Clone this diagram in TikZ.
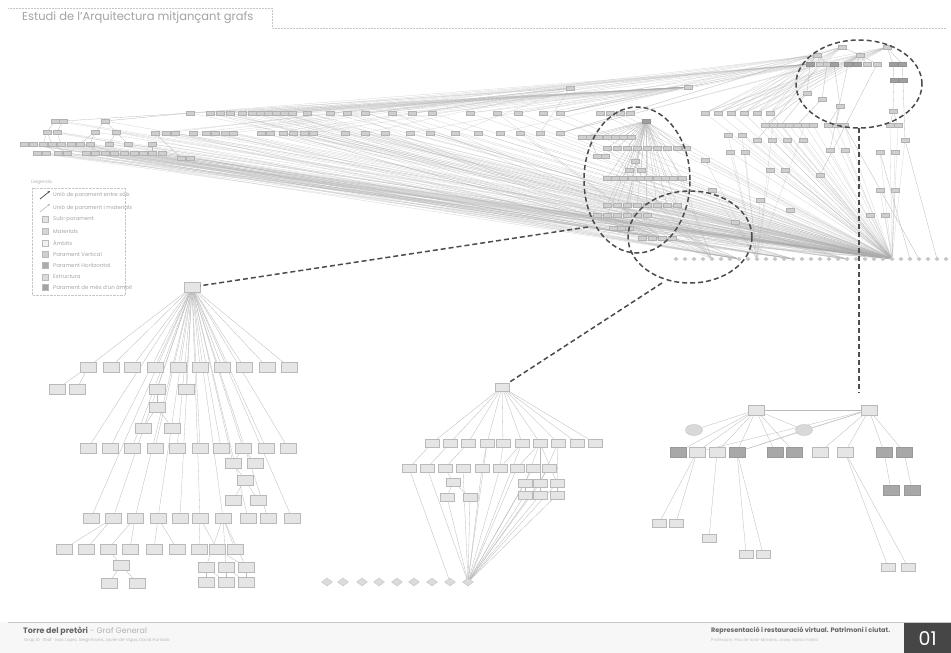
\documentclass[tikz,border=0pt]{standalone}
\usepackage{fontspec}
\setmainfont{Poppins}
\usetikzlibrary{shapes.geometric,arrows.meta}
\pgfdeclarelayer{bg}
\pgfdeclarelayer{back}
\pgfsetlayers{back,bg,main}
\begin{document}
\begin{tikzpicture}[x=1pt,y=-1pt,
 tn/.style={rectangle, fill=gray!38, draw=gray!60, line width=0.2pt, minimum width=8pt, minimum height=4pt, inner sep=0pt},
 tnd/.style={tn, fill=gray!75, draw=gray!85},
 bx/.style={rectangle, fill=gray!20, draw=gray!55, line width=0.3pt, minimum width=16pt, minimum height=10pt, inner sep=0pt},
 bxd/.style={bx, fill=gray!68, draw=gray!80},
 sbx/.style={rectangle, fill=gray!20, draw=gray!55, line width=0.3pt, minimum width=14pt, minimum height=8pt, inner sep=0pt},
 ell/.style={ellipse, fill=gray!30, draw=gray!55, line width=0.3pt, minimum width=17pt, minimum height=11pt, inner sep=0pt},
 dm/.style={diamond, fill=gray!28, draw=gray!50, line width=0.3pt, minimum width=11pt, minimum height=8pt, inner sep=0pt},
 dt/.style={diamond, fill=gray!45, draw=none, minimum width=5pt, minimum height=4.5pt, inner sep=0pt},
 ln/.style={draw=gray!55, line width=0.3pt},
 fan/.style={draw=gray!65, line width=0.3pt, opacity=0.5},
 dsh/.style={draw=black!70, line width=1.5pt, dash pattern=on 5pt off 3pt},
 lgt/.style={anchor=west, inner sep=0pt, font=\fontsize{5.4}{6}\selectfont, text=gray!70},
]
\useasboundingbox (0,0) rectangle (951,653);
\begin{pgfonlayer}{back}
\fill[white] (0,0) rectangle (951,653);
\fill[gray!6] (0,622) rectangle (951,653);
\end{pgfonlayer}
% ---------- title tab ----------
\draw[gray!45, line width=0.5pt, densely dotted] (8,8) -- (272,8) -- (272,28) -- (946,28);
\node[anchor=west, inner sep=0pt, text=gray!72, font=\fontsize{11.5}{13}\selectfont] (title) at (22,18) {Estudi de l’Arquitectura mitjançant grafs};
% ---------- footer ----------
\draw[gray!45, line width=0.8pt] (8,622) -- (951,622);
\node[anchor=west, inner sep=0pt, font=\fontsize{7.9}{9}\selectfont] (ft1) at (23,631) {\textbf{\textcolor{gray!80!black}{Torre del pretòri}} \textcolor{gray!60}{- Graf General}};
\node[anchor=west, inner sep=0pt, text=gray!55, font=\fontsize{4.2}{5}\selectfont] (ft2) at (24,640) {Grup 10 · Graf · Ivan Lopez, Sergi Rovira, Javier de Vigas, David Hurtado};
\node[anchor=west, inner sep=0pt, text=gray!80!black, font=\fontsize{6.5}{7}\bfseries\selectfont] (ft3) at (711,631) {Representació i restauració virtual. Patrimoni i ciutat.};
\node[anchor=west, inner sep=0pt, text=gray!50, font=\fontsize{4.1}{5}\selectfont] (ft4) at (711,640) {Professors: Pau de Solà-Morales, Josep Maria Toldrà};
\node[fill=gray!55!black, minimum width=47pt, minimum height=30pt, inner sep=0pt, anchor=north west, text=white, font=\fontsize{19}{20}\selectfont] (num) at (904,623) {01};
% ---------- legend ----------
\node[anchor=west, inner sep=0pt, text=gray!60, font=\fontsize{4.5}{5}\selectfont] (lgh) at (31,182) {Llegenda};
\draw[gray!45, line width=0.4pt, densely dotted] (32,188) rectangle (125,295);
\draw[-{Stealth[length=2.5pt,width=2pt]}, line width=0.7pt, black!75] (40,199) -- (50,191);
\draw[-{Stealth[length=2.5pt,width=2pt]}, line width=0.5pt, gray!60] (40,212) -- (50,204);
\foreach \y/\c in {219/gray!22, 231/gray!32, 243/gray!12, 254/gray!38, 265/gray!65, 277/gray!28, 287/gray!72}
  \filldraw[fill=\c, draw=gray!55, line width=0.3pt] (42,\y-3) rectangle (48,\y+3);
\node[lgt] at (53,195) {Unió de parament entre sòls};
\node[lgt] at (53,208) {Unió de parament i materials};
\node[lgt] at (53,219) {Sub-parament};
\node[lgt] at (53,231) {Materials};
\node[lgt] at (53,243) {Àmbits};
\node[lgt] at (53,254) {Parament Vertical};
\node[lgt] at (53,265) {Parament Horitzontal};
\node[lgt] at (53,277) {Estructura};
\node[lgt] at (53,287) {Parament de més d’un àmbit};

% ================= TOP GRAPH =================
\foreach \x [count=\i] in {190,210,220,230,242,252,260,268,276,284,292,307,330,347,365,392,412,432,470,497,518,543,560}
  \node[tn] (a\i) at (\x,113) {};
\foreach \x [count=\i] in {155,166,175,193,206,215,225,233,261,270,283,293,304,313,345,365,385,410,430,455,478,500,520,540,560}
  \node[tn] (b\i) at (\x,133) {};
\foreach \x [count=\i] in {55,63,105} \node[tn] (c\i) at (\x,121) {};
\foreach \x [count=\i] in {47,57,95,116} \node[tn] (e\i) at (\x,132) {};
\foreach \x [count=\i] in {24,33,43,52,61,71,80,90,109,128,152} \node[tn] (f\i) at (\x,144) {};
\foreach \x [count=\i] in {37,46,58,67,86,95,105,114,124,134,143,152,162} \node[tn] (g\i) at (\x,153) {};
\foreach \x [count=\i] in {181,190} \node[tn] (h\i) at (\x,158) {};
\node[tn] (t1) at (570,88) {};
\node[tn] (t2) at (688,87) {};
% dots row
\foreach \i in {1,...,31} \node[dt] (d\i) at ({676+9*(\i-1)},259) {};
% middle cluster
\node[tnd] (mh) at (646,121) {};
\foreach \x [count=\i] in {582,590,598,607,615,623,631} \node[tn] (mA\i) at (\x,137) {};
\foreach \x [count=\i] in {607,617,627,637,647,657,667,677,686} \node[tn] (mB\i) at (\x,148) {};
\foreach \x [count=\i] in {597,605} \node[tn] (mC\i) at (\x,156) {};
\node[tn] (mD1) at (635,161) {};
\node[tn] (mD2) at (629,170) {};
\node[tn] (mD3) at (641,170) {};
\foreach \x [count=\i] in {607,615,623,632,640,648,657,665,673,682} \node[tn] (mE\i) at (\x,178) {};
\foreach \x [count=\i] in {607,617,627,637,647,657,667,677} \node[tn] (mF\i) at (\x,205) {};
\foreach \x [count=\i] in {597,607,617,627,637,647} \node[tn] (mG\i) at (\x,215) {};
\foreach \x [count=\i] in {613,621,629} \node[tn] (mH\i) at (\x,228) {};
\foreach \x [count=\i] in {642,652,662,672} \node[tn] (mI\i) at (\x,238) {};
% right side cluster
\node[tn] (r1) at (842,47) {};
\node[tn] (r2) at (887,47) {};
\node[tn] (r3) at (817,55) {};
\node[tn] (r4) at (860,55) {};
\foreach \x/\s [count=\i from 5] in {810/tnd,820/tn,827/tn,834/tnd,848/tnd,857/tnd,867/tn,877/tn,893/tnd,902/tnd}
  \node[\s] (r\i) at (\x,64) {};
\node[tnd] (r15) at (894,80) {};
\node[tnd] (r16) at (903,80) {};
\node[tn] (r17) at (807,93) {};
\node[tn] (r18) at (822,99) {};
\node[tn] (r19) at (840,106) {};
\node[tn] (r20) at (893,111) {};
\foreach \x [count=\i] in {765,773,781,789,797,805,813,828,836,844,890,898} \node[tn] (s\i) at (\x,125) {};
\foreach \x [count=\i] in {600,610,620,630,705,718,731,744,757,770} \node[tn] (u\i) at (\x,113) {};
\foreach \x/\y [count=\i] in {728/135,742/135,757/140,772/140,787/140,803/140,905/140,730/152,745/152,830/150,845/150,880/152,895/152,770/170,785/170,820/175,712/190,880/190,895/190,760/200,790/210,870/215,885/215,735/222,705/160}
  \node[tn] (v\i) at (\x,\y) {};

\begin{pgfonlayer}{bg}
 % big fan to hub
 \foreach \n in {a1,a2,a3,a4,a5,a6,a7,a8,a9,a10,a11,a12,a13,a14,a15,a16,a17,a18,a19,a20,a21,a22,a23,
   b1,b2,b3,b4,b5,b6,b7,b8,b9,b10,b11,b12,b13,b14,b15,b16,b17,b18,b19,b20,b21,b22,b23,b24,b25,
   c1,c2,c3,e1,e2,e3,e4,f1,f2,f3,f4,f5,f6,f7,f8,f9,f10,f11,g1,g2,g3,g4,g5,g6,g7,g8,g9,g10,g11,g12,g13,h1,h2}
   \draw[fan] (\n) -- (d25);
 \foreach \n in {f2,f5,f8,g3,g6,g9,g12,b3,b8,b14,b20,a4,a10,a16,e2,e4}
   \draw[fan] (\n) -- (d8);
 \foreach \n in {f1,f4,f7,f10,g2,g5,g8,g11,b1,b6,b11,b17,b23,a2,a8,a14,a20}
   \draw[fan] (\n) -- (mI3);
 \foreach \n in {g1,g4,g7,g10,g13,f3,f6,f9,b2,b9,b16,a6,a12}
   \draw[fan] (\n) -- (d14);
 \foreach \n in {f1,f6,f11,g4,g9,b5,b12,b19,a3,a9,a15}
   \draw[fan] (\n) -- (d20);
 % fans from the top
 \foreach \i in {1,...,23} \draw[fan] (t2) -- (a\i);
 \foreach \i in {1,3,5,7,9,11,13,15,17,19,21} \draw[fan] (r5) -- (a\i);
 \foreach \i in {2,6,10,14,18,22} \draw[fan] (r3) -- (b\i);
 \foreach \i in {1,4,8,12,16,20,24} \draw[fan] (t1) -- (b\i);
 \draw[ln, gray!45] (t1) -- (a1);
 \draw[ln, gray!45] (t2) -- (r5);
 \draw[ln] (a1) -- (c2);
 \draw[ln] (a1) -- (c3);
 \foreach \p/\q in {c1/e1,c2/e2,c3/e3,c3/e4,e1/f3,e1/f4,e2/f5,e3/f7,e3/f8,e4/f9,e4/f10,f3/g3,f4/g4,f7/g7,f8/g8,f11/g12,b1/h1}
   \draw[ln] (\p) -- (\q);
 % middle cluster edges
 \foreach \n in {mA1,mA2,mA3,mA4,mA5,mA6,mA7,mB1,mB2,mB3,mB4,mB5,mB6,mB7,mB8,mB9,mD1,mE1,mE2,mE3,mE4,mE5,mE6,mE7,mE8,mE9,mE10,mF1,mF2,mF3,mF4,mF5,mF6,mF7,mF8,mG2,mG4,mG6,mH2}
   \draw[ln, gray!50] (mh) -- (\n);
 \foreach \n in {mE1,mE3,mE5,mE7,mE9,mF1,mF3,mF5,mF7,mG1,mG3,mG5,mH1,mH3,mI1,mI2,mI4,u1,u2,u3,u4}
   \draw[fan] (\n) -- (d25);
 \foreach \n in {mB1,mB4,mB7,mE2,mE6,mE10,mF2,mF6,mG2}
   \draw[fan] (\n) -- (d5);
 \draw[ln] (mD1) -- (mD2);
 \draw[ln] (mD1) -- (mD3);
 \draw[ln] (mC1) -- (mA2);
 % right cluster edges
 \foreach \p/\q in {r1/r3,r1/r4,r2/r4,r2/r13,r2/r14,r3/r5,r3/r6,r3/r7,r4/r9,r4/r10,r4/r11,r4/r12,r13/r15,r14/r16,r5/r17,r7/r18,r8/r19,r15/r20,r17/s1,r17/s3,r18/s5,r19/s8,r19/s9,r20/s11,r20/s12,r6/v3,r9/v10,r12/v16,r16/v7}
   \draw[ln] (\p) -- (\q);
 \foreach \n in {r1,r2,r3,r4}
   \foreach \m in {u5,u6,u7,u8,u9,u10,a23,b25}
     \draw[fan] (\n) -- (\m);
 \foreach \n in {s1,s2,s3,s4,s5,s6,s7,s8,s9,s10,s11,s12,v1,v2,v3,v4,v5,v6,v7,v8,v9,v10,v11,v12,v13,v14,v15,v16,v17,v18,v19,v20,v21,v22,v23,v24,v25,u5,u6,u7,u8,u9,u10}
   \draw[fan] (\n) -- (d25);
 \foreach \n in {s2,s6,v1,v2,v8,v9,v14,v17,v20,v24,v25}
   \draw[fan] (\n) -- (d10);
 \draw[ln] (v7) -- (d30);
 \draw[ln] (s10) -- (d28);
 \draw[ln] (v12) -- (d27);
\end{pgfonlayer}

% ================= LEFT TREE =================
\node[bx] (L0) at (192,287) {};
\foreach \x [count=\i] in {88,111,132,155,178,200,222,244,267,289} \node[bx] (La\i) at (\x,367) {};
\foreach \x [count=\i] in {88,110,132,155,177,200,221,243,266,288} \node[bx] (Lb\i) at (\x,448) {};
\foreach \x [count=\i] in {91,113,135,158,180,200,223,248,268,292} \node[bx] (Lc\i) at (\x,518) {};
\node[bx] (Ld1) at (57,389) {};
\node[bx] (Ld2) at (77,389) {};
\node[bx] (Ld3) at (157,389) {};
\node[bx] (Ld4) at (186,389) {};
\node[bx] (Ld5) at (157,407) {};
\node[bx] (Ld6) at (143,428) {};
\node[bx] (Ld7) at (172,428) {};
\node[bx] (Le1) at (233,463) {};
\node[bx] (Le2) at (255,463) {};
\node[bx] (Le3) at (245,480) {};
\node[bx] (Le4) at (233,500) {};
\node[bx] (Le5) at (258,500) {};
\foreach \x [count=\i] in {64,86,108,130,154,177,199,217,235} \node[bx] (Lf\i) at (\x,549) {};
\node[bx] (Lg1) at (121,565) {};
\node[bx] (Lg2) at (109,583) {};
\node[bx] (Lg3) at (137,583) {};
\foreach \x [count=\i] in {206,226,246} {\node[bx] (Lh\i) at (\x,567) {}; \node[bx] (Lk\i) at (\x,582) {};}
\begin{pgfonlayer}{bg}
 \foreach \i in {1,...,10} {\draw[ln] (L0) -- (La\i); \draw[ln] (L0) -- (Lb\i); \draw[ln] (L0) -- (Lc\i);}
 \draw[ln] (L0) -- (Ld3); \draw[ln] (L0) -- (Ld4); \draw[ln] (L0) -- (Le1);
 \foreach \p/\q in {La1/Ld1,La1/Ld2,Ld3/Ld5,Ld5/Ld6,Ld5/Ld7,Lb8/Le1,Lb8/Le2,Le1/Le3,Le3/Le4,Le3/Le5,Lc2/Lf1,Lc2/Lf2,Lc3/Lf3,Lc3/Lf4,Lf3/Lg1,Lg1/Lg2,Lg1/Lg3,Lc4/Lf5,Lc4/Lf6,Lc6/Lf7,Lc6/Lf8,Lc7/Lf9,Lc7/Lh1,Lc7/Lh2,Lc7/Lh3,Lf8/Lh3,Lh1/Lk1,Lh2/Lk2,Lh3/Lk3,Lh1/Lk2,Lh2/Lk3}
   \draw[ln] (\p) -- (\q);
\end{pgfonlayer}

% ================= MIDDLE TREE =================
\node[sbx] (M0) at (502,387) {};
\foreach \x [count=\i] in {432,450,468,487,503,522,540,558,577,595} \node[sbx] (Mn\i) at (\x,443) {};
\foreach \x [count=\i] in {409,427,445,463,482,500,517,533,549} \node[sbx] (Mp\i) at (\x,468) {};
\node[sbx] (Mp10) at (453,482) {};
\node[sbx] (Mp11) at (447,497) {};
\node[sbx] (Mp12) at (470,497) {};
\node[sbx] (Mp13) at (525,483) {};
\node[sbx] (Mp14) at (540,483) {};
\node[sbx] (Mp15) at (557,483) {};
\node[sbx] (Mp16) at (525,495) {};
\node[sbx] (Mp17) at (540,495) {};
\node[sbx] (Mp18) at (557,495) {};
\foreach \x [count=\i] in {327,343,362,379,397,414,432,450,468} \node[dm] (Mz\i) at (\x,582) {};
\begin{pgfonlayer}{bg}
 \foreach \i in {1,...,10} \draw[ln] (M0) -- (Mn\i);
 \foreach \p/\q in {Mn1/Mp1,Mn2/Mp2,Mn3/Mp3,Mn4/Mp5,Mn5/Mp6,Mn6/Mp6,Mn7/Mp7,Mn7/Mp13,Mn7/Mp14,Mn7/Mp15,Mn8/Mp15,Mn8/Mp14,Mp3/Mp10,Mp10/Mp11,Mp10/Mp12,Mp13/Mp16,Mp14/Mp17,Mp15/Mp18,Mp1/Mz8}
   \draw[ln] (\p) -- (\q);
 \foreach \n in {Mp2,Mp4,Mp5,Mp6,Mp7,Mp8,Mp9,Mp11,Mp12,Mp13,Mp14,Mp15,Mp16,Mp17,Mp18,Mn4,Mn6}
   \draw[ln] (\n) -- (Mz9);
\end{pgfonlayer}

% ================= RIGHT TREE =================
\node[bx] (R1) at (756,410) {};
\node[bx] (R2) at (869,410) {};
\node[ell] (E1) at (694,430) {};
\node[ell] (E2) at (804,430) {};
\foreach \x/\s [count=\i] in {678/bxd,697/bx,717/bx,737/bxd,775/bxd,794/bxd,820/bx,845/bx,884/bxd,904/bxd}
  \node[\s] (Q\i) at (\x,452) {};
\node[bxd] (Q11) at (891,490) {};
\node[bxd] (Q12) at (912,490) {};
\node[sbx] (W1) at (659,523) {};
\node[sbx] (W2) at (676,523) {};
\node[sbx] (W3) at (709,538) {};
\node[sbx] (W4) at (746,554) {};
\node[sbx] (W5) at (763,554) {};
\node[sbx] (W6) at (888,567) {};
\node[sbx] (W7) at (908,567) {};
\begin{pgfonlayer}{bg}
 \foreach \p/\q in {R1/R2,R1/E1,R1/Q1,R1/Q2,R1/Q3,R1/Q4,R1/Q5,R1/Q6,R1/E2,R2/E2,R2/Q2,R2/Q4,R2/Q7,R2/Q8,R2/Q9,R2/Q10,E2/Q4,Q2/W1,Q2/W2,Q3/W3,Q4/W4,Q4/W5,Q8/W6,Q8/W7,Q9/Q11,Q10/Q12}
   \draw[ln] (\p) -- (\q);
\end{pgfonlayer}

% ================= DASHED HIGHLIGHTS =================
\draw[dsh] (859,84) ellipse [x radius=63pt, y radius=44pt];
\draw[dsh] (637,180) ellipse [x radius=53pt, y radius=73pt];
\draw[dsh] (690,237) ellipse [x radius=62pt, y radius=46pt];
\coordinate (k1) at (588,227);
\coordinate (k2) at (662,283);
\coordinate (k3) at (859,128);
\coordinate (k4) at (859,393);
\draw[dsh] (k1) -- (L0);
\draw[dsh] (k2) -- (M0);
\draw[dsh] (k3) -- (k4);
\end{tikzpicture}
\end{document}
